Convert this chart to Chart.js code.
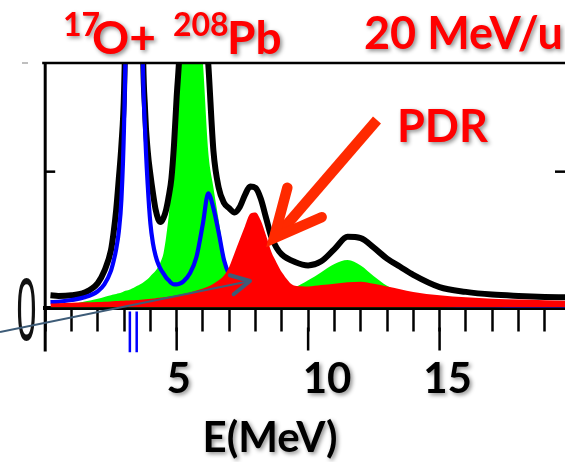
<!DOCTYPE html>
<html>
<head>
<meta charset="utf-8">
<script src="https://cdn.jsdelivr.net/npm/chart.js@4.4.0/dist/chart.umd.min.js"></script>
<style>
  html, body { margin: 0; padding: 0; background: #fff; overflow: hidden; }
  #wrap { width: 565px; height: 462px; }
</style>
</head>
<body>
<div id="wrap"><canvas id="chart" width="565" height="462"></canvas></div>
<script>
// excitation energy grid (MeV)
const energies = [0.2, 0.5, 1.0, 1.5, 2.0, 2.25, 2.5, 2.6, 2.7, 2.8, 2.9,
  3.0, 3.1, 3.2, 3.3, 3.4, 3.5, 3.6, 3.7, 3.8, 3.9,
  4.0, 4.1, 4.2, 4.3, 4.4, 4.5, 4.6, 4.7, 4.8, 4.9,
  5.0, 5.1, 5.25, 5.5, 5.75, 6.0, 6.2, 6.4, 6.6, 6.8,
  7.0, 7.2, 7.4, 7.6, 7.8, 8.0, 8.2, 8.4, 8.6, 8.8,
  9.0, 9.5, 10.0, 10.5, 11.0, 11.5, 12.0, 12.5, 13.0, 13.5, 14.0,
  15.0, 16.0, 17.0, 18.0, 19.0, 19.8];

// total (black)
const totalStrength = [0.09, 0.085, 0.09, 0.11, 0.18, 0.27, 0.42, 0.55, 0.72, 0.95, 1.2,
  1.6, 2.7, 5, 10, 14, 10.5, 5.5, 2.2, 1.45, 1.15,
  0.98, 0.84, 0.72, 0.65, 0.63, 0.66, 0.72, 0.82, 0.95, 1.2,
  1.55, 1.85, 2.6, 3.2, 3.0, 2.3, 1.8, 1.15, 0.88, 0.77,
  0.73, 0.70, 0.74, 0.83, 0.89, 0.88, 0.80, 0.66, 0.52, 0.44,
  0.39, 0.335, 0.31, 0.34, 0.43, 0.52, 0.51, 0.44, 0.36, 0.30, 0.24,
  0.15, 0.115, 0.095, 0.085, 0.078, 0.075];

// blue curve
const blueStrength = [0.04, 0.042, 0.055, 0.075, 0.12, 0.17, 0.27, 0.34, 0.43, 0.56, 0.8,
  1.35, 2.5, 5, 10, 14, 10, 4.5, 2.0, 1.3, 0.9,
  0.62, 0.47, 0.38, 0.32, 0.28, 0.25, 0.22, 0.2, 0.18, 0.17,
  0.17, 0.175, 0.19, 0.25, 0.37, 0.62, 0.84, 0.73, 0.55, 0.35,
  0.24, 0.18, 0.15, 0.13, 0.11, 0.1, 0.09, 0.085, 0.08, 0.075,
  0.07, 0.06, 0.05, 0.045, 0.04, 0.035, 0.03, 0.03, 0.025, 0.025, 0.02,
  0.02, 0.015, 0.015, 0.01, 0.01, 0.01];

// green component
const greenStrength = [0.005, 0.01, 0.025, 0.045, 0.065, 0.078, 0.09, 0.095, 0.1, 0.105, 0.11,
  0.12, 0.125, 0.13, 0.14, 0.15, 0.16, 0.17, 0.18, 0.195, 0.21,
  0.23, 0.25, 0.27, 0.3, 0.34, 0.4, 0.52, 0.68, 0.88, 1.1,
  1.35, 1.65, 2.1, 2.6, 2.4, 1.8, 1.15, 0.88, 0.64, 0.4,
  0.27, 0.21, 0.18, 0.16, 0.15, 0.14, 0.135, 0.13, 0.13, 0.13,
  0.13, 0.15, 0.2, 0.26, 0.32, 0.35, 0.31, 0.23, 0.16, 0.12, 0.09,
  0.06, 0.045, 0.035, 0.03, 0.025, 0.02];

// PDR component (red)
const pdrStrength = [0.03, 0.032, 0.035, 0.038, 0.04, 0.042, 0.045, 0.046, 0.047, 0.048, 0.049,
  0.05, 0.051, 0.052, 0.053, 0.054, 0.055, 0.057, 0.059, 0.061, 0.063,
  0.065, 0.067, 0.069, 0.071, 0.073, 0.075, 0.078, 0.081, 0.084, 0.087,
  0.09, 0.094, 0.1, 0.11, 0.125, 0.14, 0.155, 0.175, 0.2, 0.235,
  0.3, 0.4, 0.5, 0.6, 0.69, 0.7, 0.64, 0.53, 0.41, 0.33,
  0.26, 0.16, 0.155, 0.165, 0.175, 0.185, 0.19, 0.175, 0.155, 0.135, 0.115,
  0.09, 0.075, 0.065, 0.058, 0.053, 0.05];

// discrete states drawn below the axis
const discreteLines = [3.22, 3.48];
const xTickLabels = [5, 10, 15];

const pts = vals => energies.map((e, i) => ({ x: e, y: vals[i] }));

const stickData = [];
discreteLines.forEach((e, i) => {
  if (i > 0) stickData.push({ x: e - 0.1, y: null });
  stickData.push({ x: e, y: -0.03 }, { x: e, y: -0.33 });
});

function shadowText(ctx, text, x, y, font, color, align) {
  ctx.save();
  ctx.font = font;
  ctx.fillStyle = color;
  ctx.textAlign = align || 'left';
  ctx.textBaseline = 'alphabetic';
  ctx.shadowColor = 'rgba(0,0,0,0.45)';
  ctx.shadowBlur = 4;
  ctx.shadowOffsetX = 2;
  ctx.shadowOffsetY = 2;
  ctx.fillText(text, x, y);
  ctx.restore();
}

function line(ctx, x1, y1, x2, y2) {
  ctx.beginPath();
  ctx.moveTo(x1, y1);
  ctx.lineTo(x2, y2);
  ctx.stroke();
}

// arrow head as an open chevron
function chevron(ctx, tipX, tipY, dirX, dirY, len, angle) {
  const back = Math.atan2(-dirY, -dirX);
  ctx.beginPath();
  ctx.moveTo(tipX + len * Math.cos(back + angle), tipY + len * Math.sin(back + angle));
  ctx.lineTo(tipX, tipY);
  ctx.lineTo(tipX + len * Math.cos(back - angle), tipY + len * Math.sin(back - angle));
  ctx.stroke();
}

const decor = {
  id: 'decor',
  afterDraw(chart) {
    const { ctx, chartArea: a, scales: { x, y } } = chart;
    ctx.save();
    ctx.strokeStyle = '#000';
    ctx.lineCap = 'butt';

    // frame: top and left
    ctx.lineWidth = 2.5;
    line(ctx, a.left - 3, a.top, a.right, a.top);
    ctx.lineWidth = 3;
    line(ctx, a.left, a.top, a.left, a.bottom + 44);

    // long ticks every 5 MeV
    ctx.lineWidth = 2.5;
    [5, 10, 15].forEach(v => {
      const px = x.getPixelForValue(v);
      line(ctx, px, a.bottom + 20, px, a.bottom + 43);
    });

    // y tick at 1, both sides
    const y1 = y.getPixelForValue(1);
    line(ctx, a.left, y1, a.left + 10, y1);
    line(ctx, a.right - 10, y1, a.right, y1);

    // stray mark top left
    ctx.strokeStyle = '#aaa';
    ctx.lineWidth = 1.5;
    line(ctx, 22, a.top, 28, a.top);

    // stretched zero on the y axis
    ctx.save();
    ctx.translate(26.5, y.getPixelForValue(0));
    ctx.scale(0.92, 2.3);
    ctx.font = '39px "Liberation Sans"';
    ctx.fillStyle = '#111';
    ctx.textAlign = 'center';
    ctx.textBaseline = 'alphabetic';
    ctx.fillText('0', 0, 14);
    ctx.restore();

    // tick labels
    const shift = { 5: 2, 10: 19, 15: 8 };
    xTickLabels.forEach(v => {
      shadowText(ctx, String(v), x.getPixelForValue(v) + shift[v], 393, 'bold 42px Lato', '#000', 'center');
    });
    shadowText(ctx, 'E(MeV)', 270, 452, 'bold 42px Lato', '#000', 'center');

    // titles
    shadowText(ctx, '17', 63, 36, 'bold 32px Lato', '#FF0000');
    shadowText(ctx, 'O+', 92, 54, 'bold 46px Lato', '#FF0000');
    shadowText(ctx, '208', 173, 36, 'bold 32px Lato', '#FF0000');
    shadowText(ctx, 'Pb', 227, 54, 'bold 46px Lato', '#FF0000');
    shadowText(ctx, '20 MeV/u', 364, 49, 'bold 45px Lato', '#FF0000');
    shadowText(ctx, 'PDR', 397, 142, 'bold 45px Lato', '#FF0000');

    // big PDR arrow
    ctx.strokeStyle = '#FF2A00';
    ctx.lineWidth = 10.5;
    ctx.lineCap = 'butt';
    line(ctx, 377, 120, 277, 236);
    ctx.lineCap = 'round';
    ctx.lineJoin = 'miter';
    ctx.miterLimit = 10;
    chevron(ctx, 274, 238, -103, 120, 52, 0.45);

    // thin pointer arrow
    ctx.strokeStyle = '#3E5C78';
    ctx.lineWidth = 2;
    ctx.lineCap = 'butt';
    line(ctx, 0, 332, 250, 281);
    ctx.lineWidth = 4;
    ctx.lineCap = 'round';
    ctx.lineJoin = 'round';
    chevron(ctx, 250, 281, 250, -51, 21, 0.48);

    ctx.restore();
  }
};

const curve = {
  pointRadius: 0,
  cubicInterpolationMode: 'monotone',
  clip: 0
};

new Chart(document.getElementById('chart'), {
  type: 'line',
  data: {
    datasets: [
      {
        label: 'levels',
        data: stickData,
        borderColor: '#0000FF',
        borderWidth: 2.5,
        pointRadius: 0,
        tension: 0,
        clip: false
      },
      {
        ...curve,
        label: 'PDR',
        data: pts(pdrStrength),
        borderColor: 'rgba(0,0,0,0)',
        borderWidth: 0,
        backgroundColor: '#FF0000',
        fill: 'origin'
      },
      {
        ...curve,
        label: 'blue',
        data: pts(blueStrength),
        borderColor: '#0000FF',
        borderWidth: 4.2,
        borderJoinStyle: 'round'
      },
      {
        ...curve,
        label: 'total',
        data: pts(totalStrength),
        borderColor: '#000',
        borderWidth: 6,
        borderJoinStyle: 'round'
      },
      {
        ...curve,
        label: 'green',
        data: pts(greenStrength),
        borderColor: 'rgba(0,0,0,0)',
        borderWidth: 0,
        backgroundColor: '#00FF00',
        fill: 'origin'
      }
    ]
  },
  options: {
    responsive: false,
    animation: false,
    devicePixelRatio: 1,
    elements: { line: { capBezierPoints: false } },
    layout: { padding: { left: 45.2, top: 63, right: 0, bottom: 130.5 } },
    plugins: { legend: { display: false }, tooltip: { enabled: false } },
    scales: {
      x: {
        type: 'linear',
        min: 0,
        max: 19.77,
        border: { display: true, color: '#000', width: 4 },
        grid: { drawOnChartArea: false, drawTicks: true, tickLength: 24, tickWidth: 2.5, color: '#000', tickColor: '#000' },
        ticks: { display: false, stepSize: 1, includeBounds: false }
      },
      y: {
        display: false,
        min: 0,
        max: 1.8
      }
    }
  },
  plugins: [decor]
});
</script>
</body>
</html>
